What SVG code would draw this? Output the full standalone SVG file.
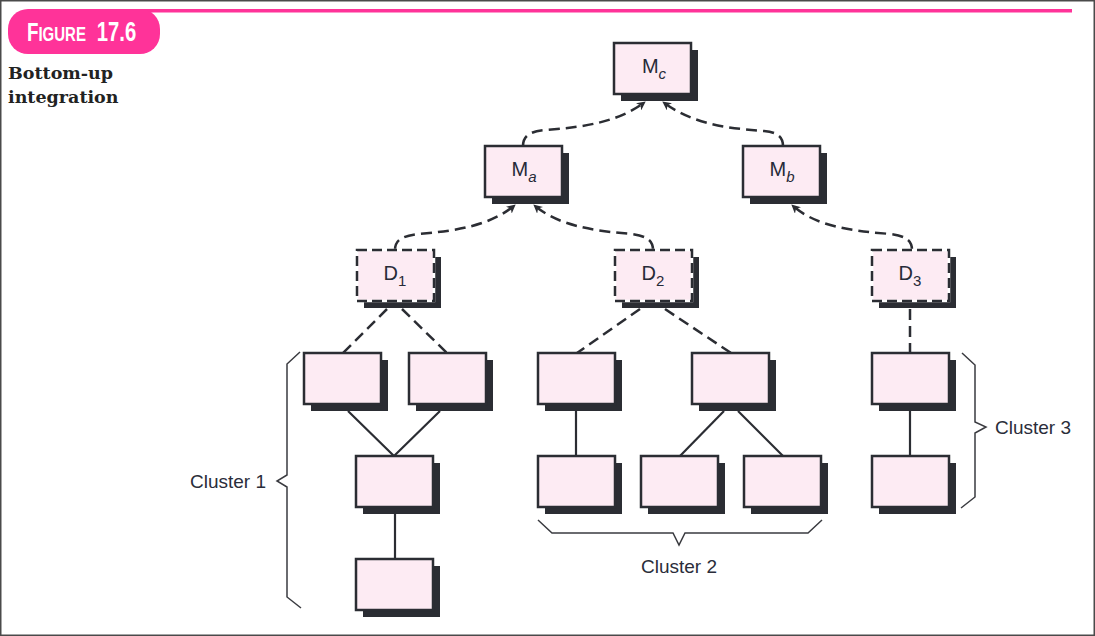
<svg xmlns="http://www.w3.org/2000/svg" width="1095" height="636" viewBox="0 0 1095 636">
  <defs>
    <style>
      .shadow { fill: #2b2d33; }
      .box { fill: #fdebf3; stroke: #2b2d33; stroke-width: 2.5; }
      .dbox-under { fill: #fdebf3; stroke: #ffffff; stroke-width: 2.5; }
      .dbox { fill: none; stroke: #2b2d33; stroke-width: 2.5; stroke-dasharray: 10 5; }
      .dash { fill: none; stroke: #2b2d33; stroke-width: 2.5; stroke-dasharray: 11 6; }
      .solid { fill: none; stroke: #2b2d33; stroke-width: 2.2; }
      .brace { fill: none; stroke: #3a3b40; stroke-width: 1.5; }
      .lbl { font-family: "Liberation Sans", Arial, sans-serif; font-size: 20px; fill: #262a38; }
      .sub { font-size: 15px; }
      .cl { font-family: "Liberation Sans", Arial, sans-serif; font-size: 19px; fill: #2a2d3a; }
      .title { font-family: "DejaVu Serif", "Liberation Serif", serif; font-weight: bold; font-size: 17.5px; fill: #222; }
    </style>
    <marker id="arr" viewBox="0 0 10 10" refX="9" refY="5" markerWidth="9" markerHeight="9" markerUnits="userSpaceOnUse" orient="auto">
      <path d="M0,0 L10,5 L0,10 L3,5 Z" fill="#2b2d33"/>
    </marker>
  </defs>

  <rect x="0.75" y="0.75" width="1093.5" height="634.5" fill="#ffffff" stroke="#4a4a4a" stroke-width="1.5"/>

  <g id="header">
    <rect x="100" y="9" width="972" height="3.5" fill="#ff3399"/>
    <rect x="8" y="9" width="152" height="45" rx="20" ry="20" fill="#ff3399"/>
    <text transform="translate(27,41) scale(0.75,1)" x="0" y="0" font-family="'Liberation Sans', Arial, sans-serif" font-weight="bold" font-size="25" fill="#ffffff">F<tspan font-size="20">IGURE</tspan><tspan x="93" font-size="27">17.6</tspan></text>
    <text class="title" x="8" y="79">Bottom-up</text>
    <text class="title" x="8" y="103">integration</text>
  </g>

  <g id="connectors">
    <path class="dash" d="M523,146 C523,136 530,131 546,130 C585,127 618,122 645,102" marker-end="url(#arr)"/>
    <path class="dash" d="M783,146 C783,136 776,132 764,131 C720,128 690,122 663,102" marker-end="url(#arr)"/>
    <path class="dash" d="M395,250 C395,240 402,236 418,234 C455,231 490,226 515,205" marker-end="url(#arr)"/>
    <path class="dash" d="M653,250 C653,240 646,236 632,234 C595,231 558,226 534,205" marker-end="url(#arr)"/>
    <path class="dash" d="M912,250 C912,240 905,236 891,234 C850,231 815,226 792,205" marker-end="url(#arr)"/>
    <path class="dash" d="M387,309 L343,353"/>
    <path class="dash" d="M402,309 L447,353"/>
    <path class="dash" d="M640,309 L577,353"/>
    <path class="dash" d="M665,309 L731,353"/>
    <path class="dash" d="M910,309 L910,353"/>
    <path class="solid" d="M348,411 L394,456 L440,411"/>
    <path class="solid" d="M395,514 L395,559"/>
    <path class="solid" d="M576,411 L576,456"/>
    <path class="solid" d="M724,411 L680,456"/>
    <path class="solid" d="M738,411 L783,456"/>
    <path class="solid" d="M910,411 L910,456"/>
  </g>

  <g id="node-Mc">
    <rect class="shadow" x="621" y="50" width="77" height="51"/>
    <rect class="box" x="614" y="43" width="77" height="51"/>
    <text class="lbl" x="654" y="73" text-anchor="middle">M<tspan class="sub" font-style="italic" dy="6">c</tspan></text>
  </g>
  <g id="node-Ma">
    <rect class="shadow" x="492" y="153" width="77" height="51"/>
    <rect class="box" x="485" y="146" width="77" height="51"/>
    <text class="lbl" x="524" y="176" text-anchor="middle">M<tspan class="sub" font-style="italic" dy="6">a</tspan></text>
  </g>
  <g id="node-Mb">
    <rect class="shadow" x="750" y="153" width="77" height="51"/>
    <rect class="box" x="743" y="146" width="77" height="51"/>
    <text class="lbl" x="782" y="176" text-anchor="middle">M<tspan class="sub" font-style="italic" dy="6">b</tspan></text>
  </g>

  <g id="node-D1">
    <rect class="shadow" x="364" y="257" width="77" height="51"/>
    <rect class="dbox-under" x="357" y="250" width="77" height="51"/>
    <rect class="dbox" x="357" y="250" width="77" height="51"/>
    <text class="lbl" x="395" y="280" text-anchor="middle">D<tspan class="sub" dy="6">1</tspan></text>
  </g>
  <g id="node-D2">
    <rect class="shadow" x="622" y="257" width="77" height="51"/>
    <rect class="dbox-under" x="615" y="250" width="77" height="51"/>
    <rect class="dbox" x="615" y="250" width="77" height="51"/>
    <text class="lbl" x="653" y="280" text-anchor="middle">D<tspan class="sub" dy="6">2</tspan></text>
  </g>
  <g id="node-D3">
    <rect class="shadow" x="879" y="257" width="77" height="51"/>
    <rect class="dbox-under" x="872" y="250" width="77" height="51"/>
    <rect class="dbox" x="872" y="250" width="77" height="51"/>
    <text class="lbl" x="910" y="280" text-anchor="middle">D<tspan class="sub" dy="6">3</tspan></text>
  </g>

  <g id="node-c1a"><rect class="shadow" x="311" y="360" width="77" height="51"/><rect class="box" x="304" y="353" width="77" height="51"/></g>
  <g id="node-c1b"><rect class="shadow" x="416" y="360" width="77" height="51"/><rect class="box" x="409" y="353" width="77" height="51"/></g>
  <g id="node-c1c"><rect class="shadow" x="363" y="463" width="77" height="51"/><rect class="box" x="356" y="456" width="77" height="51"/></g>
  <g id="node-c1d"><rect class="shadow" x="363" y="566" width="77" height="51"/><rect class="box" x="356" y="559" width="77" height="51"/></g>

  <g id="node-c2a"><rect class="shadow" x="545" y="360" width="77" height="51"/><rect class="box" x="538" y="353" width="77" height="51"/></g>
  <g id="node-c2b"><rect class="shadow" x="699" y="360" width="77" height="51"/><rect class="box" x="692" y="353" width="77" height="51"/></g>
  <g id="node-c2c"><rect class="shadow" x="545" y="463" width="77" height="51"/><rect class="box" x="538" y="456" width="77" height="51"/></g>
  <g id="node-c2d"><rect class="shadow" x="648" y="463" width="77" height="51"/><rect class="box" x="641" y="456" width="77" height="51"/></g>
  <g id="node-c2e"><rect class="shadow" x="751" y="463" width="77" height="51"/><rect class="box" x="744" y="456" width="77" height="51"/></g>

  <g id="node-c3a"><rect class="shadow" x="879" y="360" width="77" height="51"/><rect class="box" x="872" y="353" width="77" height="51"/></g>
  <g id="node-c3b"><rect class="shadow" x="879" y="463" width="77" height="51"/><rect class="box" x="872" y="456" width="77" height="51"/></g>

  <g id="cluster1">
    <path class="brace" d="M300,352 L287,364 L287,475 L277,481 L287,487 L287,597 L301,608"/>
    <text class="cl" x="266" y="488" text-anchor="end">Cluster 1</text>
  </g>
  <g id="cluster2">
    <path class="brace" d="M538,520 L552,533 L673,533 L679,545 L685,533 L808,533 L822,520"/>
    <text class="cl" x="679" y="573" text-anchor="middle">Cluster 2</text>
  </g>
  <g id="cluster3">
    <path class="brace" d="M962,353 L975,365 L975,422 L986,427 L975,433 L975,497 L961,508"/>
    <text class="cl" x="995" y="434">Cluster 3</text>
  </g>
</svg>
